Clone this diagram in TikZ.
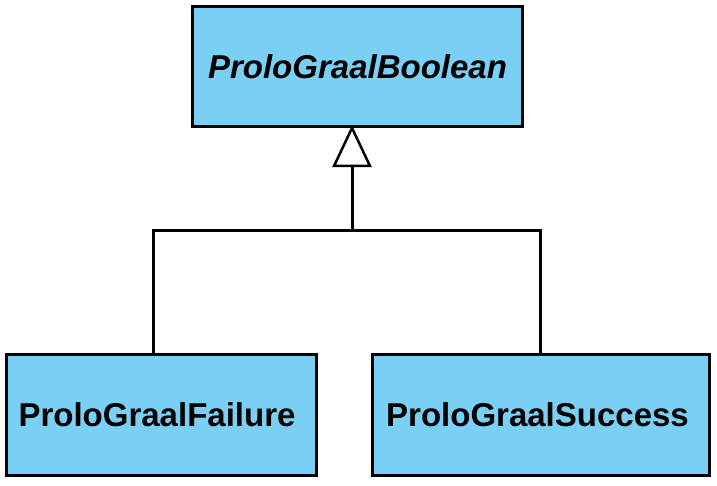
\documentclass[tikz,border=0pt]{standalone}
\usepackage{fontspec}
\setmainfont{Liberation Sans}
\usetikzlibrary{arrows.meta,calc}
\definecolor{boxblue}{RGB}{122,207,244}
\begin{document}
\begin{tikzpicture}[x=1pt,y=-1pt,
  classbox/.style={draw=black,line width=3pt,fill=boxblue,rectangle,inner sep=0pt,
    font=\fontsize{33}{38}\selectfont\bfseries},
  conn/.style={line width=3pt,line join=miter}]
\useasboundingbox (0,0) rectangle (717,486);
\node[classbox,minimum width=330pt,minimum height=120pt] (base) at (357.5,66.5) {\raisebox{-3pt}{\itshape ProloGraalBoolean}};
\node[classbox,minimum width=310pt,minimum height=121pt] (fail) at (161,414.5) {ProloGraalFailure\hspace*{8pt}};
\node[classbox,minimum width=337pt,minimum height=121pt] (succ) at (540.5,414.5) {ProloGraalSuccess\hspace*{6pt}};
\coordinate (apex) at (352,128);
\coordinate (tbase) at (352,166);
\coordinate (junc) at (352,231);
\coordinate (jl) at (153,231);
\coordinate (jr) at (540,231);
\draw[line width=2.5pt,fill=white,line join=miter] (apex) -- ($(tbase)+(-18,0)$) -- ($(tbase)+(18,0)$) -- cycle;
\draw[conn] (tbase) -- (junc);
\draw[conn] (jl |- fail.north) -- (jl) -- (jr) -- (jr |- succ.north);
\end{tikzpicture}
\end{document}
